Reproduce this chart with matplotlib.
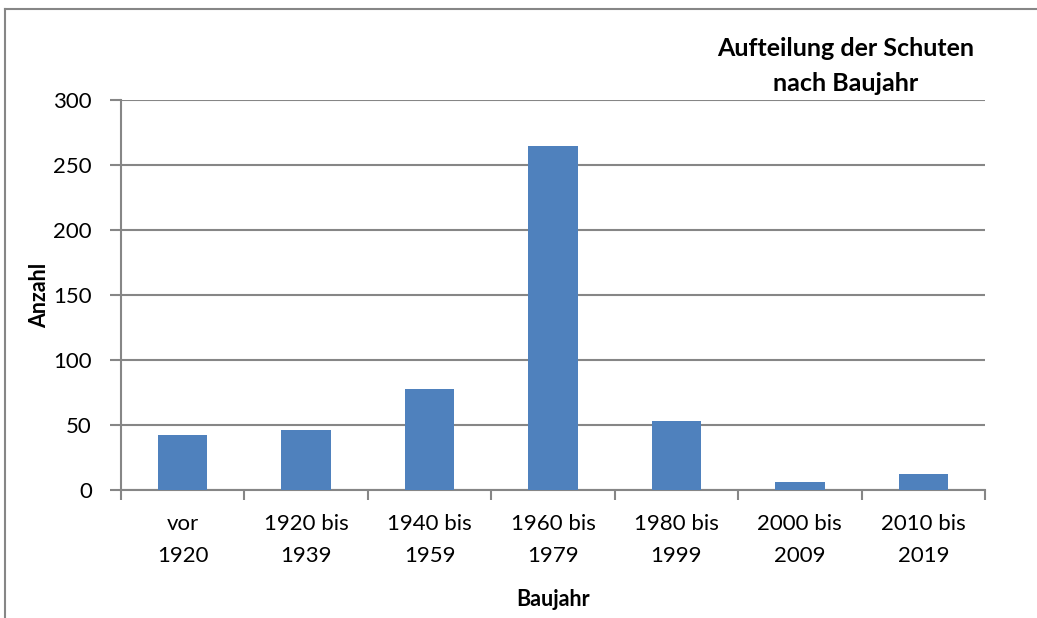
import matplotlib.pyplot as plt
import numpy as np

plt.rcParams['font.family'] = ['Lato', 'DejaVu Sans']

categories = ["vor\n1920", "1920 bis\n1939", "1940 bis\n1959", "1960 bis\n1979",
              "1980 bis\n1999", "2000 bis\n2009", "2010 bis\n2019"]
anzahl = [42, 46, 78, 265, 53, 6, 12]
yticks = [0, 50, 100, 150, 200, 250, 300]

grey = "#868686"

fig = plt.figure(figsize=(10.37, 6.18), dpi=100)
ax = fig.add_axes([121 / 1037, 1 - 490 / 618, 864 / 1037, 390 / 618])

x = np.arange(len(categories))
ax.bar(x, anzahl, width=0.4, color="#4F81BD", zorder=3)

ax.set_xlim(-0.5, len(categories) - 0.5)
ax.set_ylim(0, 300)
ax.set_yticks(yticks)
ax.yaxis.grid(True, color=grey, linewidth=1.5, zorder=0)

# category boundaries for ticks like Excel
ax.set_xticks(np.arange(len(categories) + 1) - 0.5)
ax.set_xticklabels([])
ax.set_xticks(x, minor=True)
ax.set_xticklabels(categories, minor=True, fontsize=16, linespacing=1.8)
ax.tick_params(axis="x", which="minor", length=0, pad=17)
ax.tick_params(axis="x", which="major", length=7, width=1.5, color=grey)
ax.tick_params(axis="y", length=8, width=1.5, color=grey, labelsize=16, pad=13)

for s in ["top", "right"]:
    ax.spines[s].set_visible(False)
for s in ["left", "bottom"]:
    ax.spines[s].set_color(grey)
    ax.spines[s].set_linewidth(1.5)

ax.set_ylabel("Anzahl", fontsize=15.5, fontweight="bold", labelpad=2)
ax.set_xlabel("Baujahr", fontsize=15.5, fontweight="bold", labelpad=16)

fig.text(846 / 1037, 1 - 66 / 618, "Aufteilung der Schuten\nnach Baujahr",
         ha="center", va="center", fontsize=18, fontweight="bold", linespacing=1.6)

# outer chart border (left and top visible)
fig.add_artist(plt.Line2D([5 / 1037, 5 / 1037], [0, 1 - 9 / 618], color=grey,
                          linewidth=1.5, transform=fig.transFigure))
fig.add_artist(plt.Line2D([5 / 1037, 1], [1 - 9 / 618, 1 - 9 / 618], color=grey,
                          linewidth=1.5, transform=fig.transFigure))

fig.savefig("out.png", dpi=100)
